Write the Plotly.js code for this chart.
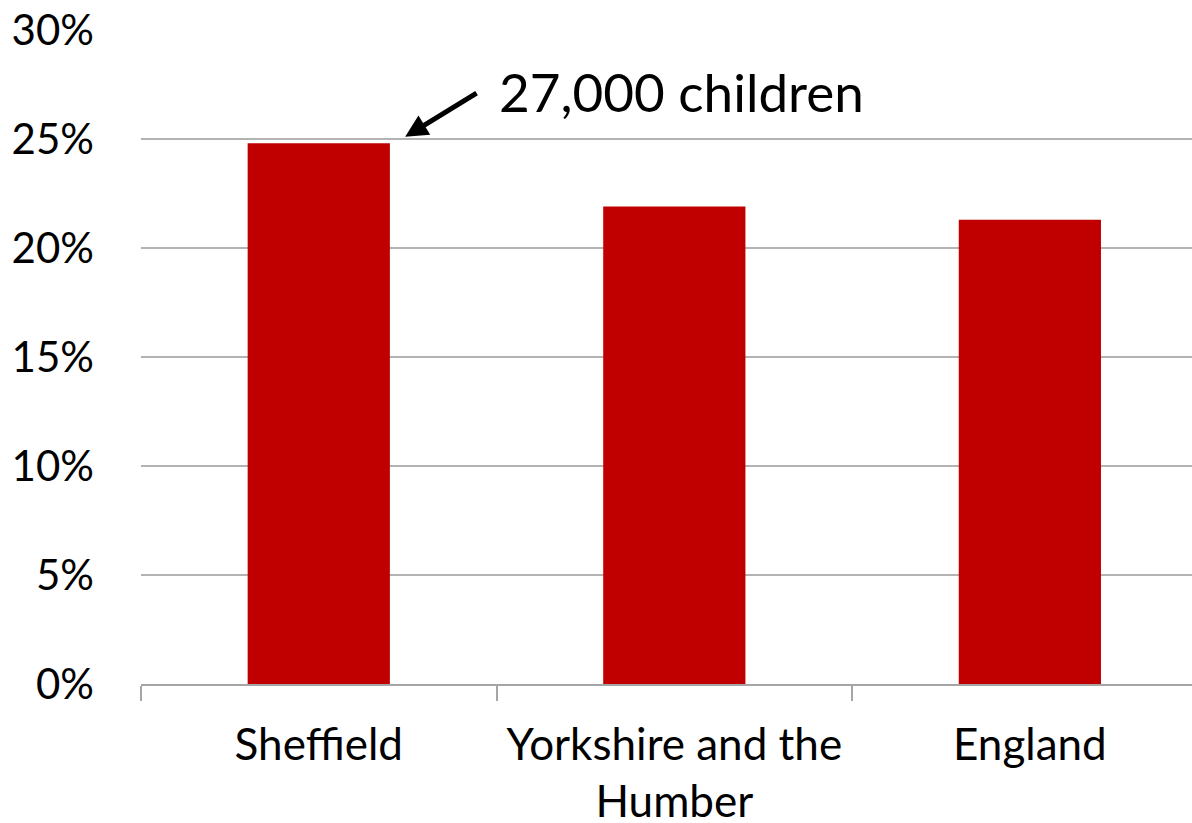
<!DOCTYPE html>
<html>
<head>
<meta charset="utf-8">
<script src="https://cdn.plot.ly/plotly-3.0.1.min.js"></script>
<style>
  html, body { margin: 0; padding: 0; background: #ffffff; }
  #chart { width: 1192px; height: 823px; }
</style>
</head>
<body>
<div id="chart"></div>
<script>
// Share of children in low-income families, by area
const areas = ["Sheffield", "Yorkshire and the<br>Humber", "England"];
const shares = [24.8, 21.9, 21.3];
const yTicks = [0, 5, 10, 15, 20, 25, 30];
const yTickLabels = ["0%", "5%", "10%", "15%", "20%", "25%", "30%"];
const calloutText = "27,000 children";

const FONT = "Lato, 'Open Sans', sans-serif";

const trace = {
  type: "bar",
  x: areas,
  y: shares,
  width: 0.4,
  marker: { color: "#c00000" },
  hoverinfo: "skip"
};

const layout = {
  width: 1192,
  height: 823,
  margin: { l: 141, r: 0, t: 30, b: 139 },
  paper_bgcolor: "#ffffff",
  plot_bgcolor: "#ffffff",
  showlegend: false,
  font: { family: FONT, color: "#000000", size: 42 },
  xaxis: {
    type: "category",
    range: [-0.5, 2.456],
    showgrid: false,
    showline: true,
    linecolor: "#a6a6a6",
    linewidth: 2,
    ticks: "outside",
    tickson: "boundaries",
    ticklen: 15,
    tickwidth: 2,
    tickcolor: "#a6a6a6",
    ticklabelstandoff: 21,
    tickfont: { family: FONT, size: 44, color: "#000000" },
    zeroline: false,
    fixedrange: true
  },
  yaxis: {
    range: [0, 30],
    tickvals: yTicks,
    ticktext: yTickLabels,
    showgrid: true,
    gridcolor: "#b3b3b3",
    gridwidth: 2,
    showline: false,
    zeroline: false,
    ticks: "",
    ticklabelstandoff: 46,
    tickfont: { family: FONT, size: 42, color: "#000000" },
    fixedrange: true
  },
  annotations: [
    {
      // arrow pointing at the top of the Sheffield bar
      x: 0.243, y: 25.1,
      ax: 0.448, ay: 27.15,
      xref: "x", yref: "y", axref: "x", ayref: "y",
      text: "",
      showarrow: true,
      arrowhead: 2,
      arrowsize: 0.9,
      arrowwidth: 5,
      arrowcolor: "#000000"
    },
    {
      x: 0.5, y: 27.2,
      xref: "x", yref: "y",
      xanchor: "left", yanchor: "middle",
      text: calloutText,
      showarrow: false,
      font: { family: FONT, size: 53, color: "#000000" }
    }
  ]
};

Plotly.newPlot("chart", [trace], layout, { staticPlot: true, displayModeBar: false });
</script>
</body>
</html>
